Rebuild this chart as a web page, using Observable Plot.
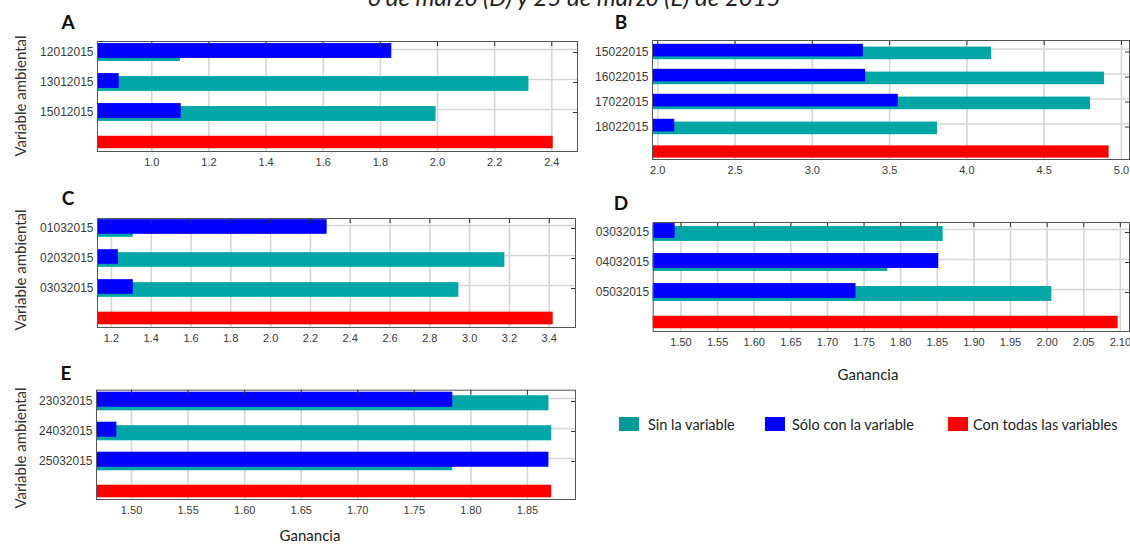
<!DOCTYPE html>
<html>
<head>
<meta charset="utf-8">
<script src="https://cdn.jsdelivr.net/npm/d3@7"></script>
<script src="https://cdn.jsdelivr.net/npm/@observablehq/plot@0.6"></script>
<style>
  body { margin: 0; background: #fff; }
  #root { position: relative; width: 1130px; height: 544px; overflow: hidden; background: #fff; font-family: Lato, "Open Sans", sans-serif; }
  .abs { position: absolute; white-space: nowrap; }
  .letter { font-weight: 700; font-size: 19px; color: #111; transform: translate(-50%, -50%); }
  .ylab { font-size: 15px; color: #333; transform: translate(-50%, -50%) rotate(-90deg); }
  .xlab { font-size: 15px; color: #222; transform: translate(-50%, -50%); }
  .sw { position: absolute; width: 20px; height: 14px; }
  .lg { font-size: 14.5px; color: #222; transform: translateY(-50%); }
</style>
</head>
<body>
<div id="root"></div>
<script>
// ---------- data ----------
const seriesNames = ["Sin la variable", "Sólo con la variable", "Con todas las variables"];

const catsA = ["12012015", "13012015", "15012015"];
const sinA = [1.10, 2.32, 1.995];
const soloA = [1.84, 0.886, 1.103];
const todasA = 2.405;
const ticksA = [1.0, 1.2, 1.4, 1.6, 1.8, 2.0, 2.2, 2.4];

const catsB = ["15022015", "16022015", "17022015", "18022015"];
const sinB = [4.16, 4.89, 4.80, 3.81];
const soloB = [3.33, 3.345, 3.556, 2.11];
const todasB = 4.92;
const ticksB = [2.0, 2.5, 3.0, 3.5, 4.0, 4.5, 5.0];

const catsC = ["01032015", "02032015", "03032015"];
const sinC = [1.31, 3.177, 2.946];
const soloC = [2.284, 1.235, 1.31];
const todasC = 3.42;
const ticksC = [1.2, 1.4, 1.6, 1.8, 2.0, 2.2, 2.4, 2.6, 2.8, 3.0, 3.2, 3.4];

const catsD = ["03032015", "04032015", "05032015"];
const sinD = [1.858, 1.7825, 2.0065];
const soloD = [1.492, 1.852, 1.739];
const todasD = 2.097;
const ticksD = [1.50, 1.55, 1.60, 1.65, 1.70, 1.75, 1.80, 1.85, 1.90, 1.95, 2.00, 2.05, 2.10];

const catsE = ["23032015", "24032015", "25032015"];
const sinE = [1.869, 1.8715, 1.784];
const soloE = [1.784, 1.487, 1.869];
const todasE = 1.8715;
const ticksE = [1.50, 1.55, 1.60, 1.65, 1.70, 1.75, 1.80, 1.85];

const TEAL = "#00a6a6", BLUE = "#0000ff", RED = "#ff0000";
const root = document.getElementById("root");

function panel(o) {
  const keys = [...o.cats, "todas"];
  const n = keys.length;
  const step = (o.c1 - o.c0) / (n - 1);
  const rows = o.cats.map((c, i) => ({cat: c, sin: o.sin[i], solo: o.solo[i]}));
  const bw = step;
  const plotW = o.width - o.mL - o.mR, plotH = o.height - o.mT - o.mB;
  const xmin = o.domain[0];
  const t = o.t, off = o.off;
  const svg = Plot.plot({
    width: o.width, height: o.height,
    marginLeft: o.mL, marginRight: o.mR, marginTop: o.mT, marginBottom: o.mB,
    style: {fontFamily: "'Liberation Sans', Arial, sans-serif", fontSize: "11px", color: "#3a3a3a", background: "transparent", overflow: "visible"},
    x: {domain: o.domain},
    y: {type: "band", domain: keys, range: [o.c0 - step / 2, o.c1 + step / 2], padding: 0},
    marks: [
      Plot.ruleX(o.ticks, {x: d => d, stroke: "#d6d6d6", strokeWidth: 1.6}),
      Plot.ruleY(o.cats, {y: d => d, dy: -3, stroke: "#d6d6d6", strokeWidth: 1.3}),
      Plot.barX(rows, {y: "cat", x1: () => xmin, x2: "sin", fill: TEAL,
        insetTop: bw / 2 - (t - off) / 2, insetBottom: bw / 2 - (t + off) / 2}),
      Plot.barX(rows, {y: "cat", x1: () => xmin, x2: "solo", fill: BLUE,
        insetTop: bw / 2 - (t + off) / 2, insetBottom: bw / 2 - (t - off) / 2}),
      Plot.barX([{cat: "todas", v: o.todas}], {y: "cat", x1: () => xmin, x2: "v", fill: RED,
        insetTop: bw / 2 - 6.5, insetBottom: bw / 2 - 6.5}),
      Plot.tickX(o.ticks, {x: d => d, stroke: "#333", insetBottom: plotH - 5}),
      Plot.tickY(o.cats, {y: d => d, stroke: "#333", insetLeft: plotW - 4}),
      Plot.frame({stroke: "#555"}),
      Plot.axisX({ticks: o.ticks, tickFormat: d => d.toFixed(o.digits), tickSize: 0, tickPadding: 6.5, label: null, fontSize: 11}),
      Plot.axisY({ticks: o.cats, tickSize: 0, tickPadding: 4, label: null, fontSize: 12})
    ]
  });
  svg.style.position = "absolute";
  svg.style.left = o.left + "px";
  svg.style.top = o.top + "px";
  root.appendChild(svg);
}

panel({cats: catsA, sin: sinA, solo: soloA, todas: todasA, ticks: ticksA, digits: 1, domain: [0.81, 2.49],
  left: 0, top: 25, width: 580, height: 155, mL: 97, mR: 3, mT: 16, mB: 29, c0: 26.2, c1: 117.85, t: 15.4, off: 3});
panel({cats: catsB, sin: sinB, solo: soloB, todas: todasB, ticks: ticksB, digits: 1, domain: [1.966, 5.052],
  left: 560, top: 25, width: 570, height: 160, mL: 92, mR: 1, mT: 15, mB: 26, c0: 24.7, c1: 127.5, t: 13.3, off: 2.8});
panel({cats: catsC, sin: sinC, solo: soloC, todas: todasC, ticks: ticksC, digits: 1, domain: [1.13, 3.532],
  left: 0, top: 200, width: 580, height: 150, mL: 97, mR: 5, mT: 18, mB: 23, c0: 28, c1: 119, t: 15, off: 3});
panel({cats: catsD, sin: sinD, solo: soloD, todas: todasD, ticks: ticksD, digits: 2, domain: [1.462, 2.1125],
  left: 560, top: 200, width: 570, height: 150, mL: 92.7, mR: 1, mT: 22, mB: 19, c0: 31.7, c1: 123.3, t: 15.4, off: 3});
panel({cats: catsE, sin: sinE, solo: soloE, todas: todasE, ticks: ticksE, digits: 2, domain: [1.469, 1.8925],
  left: 0, top: 375, width: 580, height: 150, mL: 96, mR: 5, mT: 14.7, mB: 26, c0: 25, c1: 116.3, t: 15.5, off: 3.5});

function addText(cls, txt, x, y, extra) {
  const d = document.createElement("div");
  d.className = "abs " + cls;
  d.textContent = txt;
  d.style.left = x + "px";
  d.style.top = y + "px";
  if (extra) Object.assign(d.style, extra);
  root.appendChild(d);
  return d;
}

// clipped title at very top
addText("", "6 de marzo (D) y 25 de marzo (E) de 2015", 574, -15,
  {fontStyle: "italic", fontSize: "24px", lineHeight: "24px", color: "#222", transform: "translateX(-50%)"});

// panel letters
addText("letter", "A", 68, 21);
addText("letter", "B", 621, 21);
addText("letter", "C", 68, 197);
addText("letter", "D", 621, 202);
addText("letter", "E", 66, 372);

// y labels
addText("ylab", "Variable ambiental", 20, 96);
addText("ylab", "Variable ambiental", 20, 270);
addText("ylab", "Variable ambiental", 20, 448);

// x labels
addText("xlab", "Ganancia", 868, 374);
addText("xlab", "Ganancia", 310, 535);

// legend
const legendColors = ["#009a9a", BLUE, RED];
const swX = [619, 765, 948];
const txX = [648, 792, 973];
seriesNames.forEach((name, i) => {
  const s = document.createElement("div");
  s.className = "sw";
  s.style.left = swX[i] + "px";
  s.style.top = "417px";
  s.style.background = legendColors[i];
  root.appendChild(s);
  addText("lg", name, txX[i], 424);
});
</script>
</body>
</html>
